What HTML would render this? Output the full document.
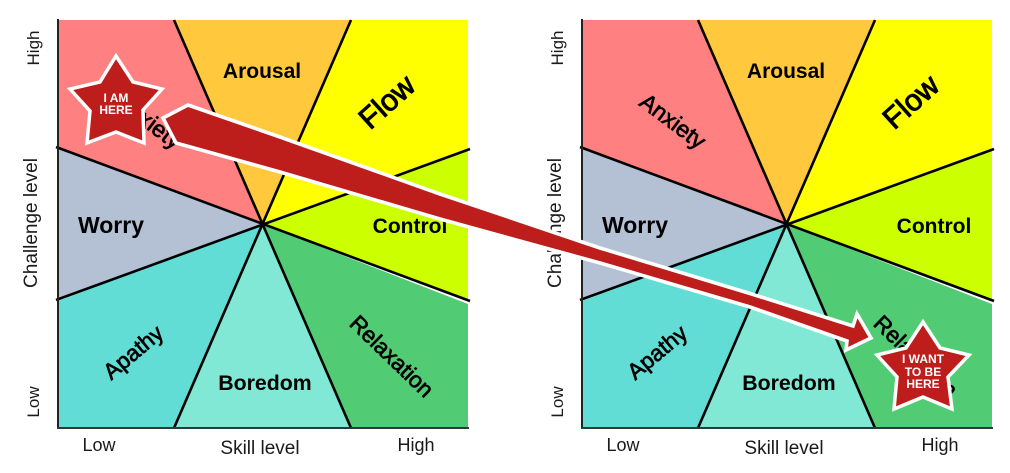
<!DOCTYPE html>
<html><head><meta charset="utf-8"><style>
html,body{margin:0;padding:0;background:#fff;width:1010px;height:473px;overflow:hidden}
svg{display:block}
text{font-family:"Liberation Sans",sans-serif}
.b{font-weight:bold;fill:#000;text-anchor:middle}
.r{fill:#000;text-anchor:middle;stroke:#000;stroke-width:.7px}
.a{fill:#1a1a1a;text-anchor:middle;font-size:17px}
.s{fill:#fff;font-weight:bold;font-size:12px;text-anchor:middle}
</style></head><body>
<svg width="1010" height="473" viewBox="0 0 1010 473" xmlns="http://www.w3.org/2000/svg">
<defs>
<g id="p">
<rect x="58" y="20" width="410" height="408" fill="#fff"/>
<polygon points="58,20 174,20 262,224 58,148" fill="#ff8080"/>
<polygon points="174,20 351,20 262,224" fill="#ffc83d"/>
<polygon points="351,20 468,20 468,151 262,224" fill="#ffff00"/>
<polygon points="468,151 468,299 262,224" fill="#ccff00"/>
<polygon points="468,304 468,428 351,428 262,224" fill="#52cc74"/>
<polygon points="351,428 174,428 262,224" fill="#80e8d4"/>
<polygon points="174,428 58,428 58,301 262,224" fill="#62ddd5"/>
<polygon points="58,148 262,224 58,299" fill="#b4c0d4"/>
<g stroke="#000" stroke-width="2.6" fill="none">
<line x1="174" y1="20" x2="351" y2="428"/>
<line x1="351" y1="20" x2="174" y2="428"/>
<line x1="56" y1="147" x2="470" y2="301"/>
<line x1="56" y1="300" x2="470" y2="149"/>
</g>
<line x1="58" y1="19" x2="58" y2="429" stroke="#222" stroke-width="2"/>
<line x1="57" y1="428" x2="469" y2="428" stroke="#2a3a3a" stroke-width="2"/>
<text class="b" font-size="21" x="262" y="78">Arousal</text>
<text class="b" font-size="21.3" x="265" y="390">Boredom</text>
<text class="b" font-size="23" x="111" y="233">Worry</text>
<text class="b" font-size="21" x="410" y="233">Control</text>
<text class="r" font-size="30" transform="translate(387,102) rotate(-42)" y="10" style="stroke-width:1px">Flow</text>
<text class="r" font-size="22.5" transform="translate(133,352) rotate(-40)" y="8">Apathy</text>
<text class="r" font-size="22.5" transform="translate(392,356) rotate(44)" y="8">Relaxation</text>
<text class="r" font-size="23" transform="translate(149,121) rotate(37)" y="8">Anxiety</text>
<text class="a" x="99" y="451" style="font-size:18px">Low</text>
<text class="a" x="260" y="454" style="font-size:19px">Skill level</text>
<text class="a" x="416" y="451" style="font-size:18px">High</text>
<text class="a" transform="translate(39,48) rotate(-90)">High</text>
<text class="a" style="font-size:19px" transform="translate(37,223) rotate(-90)">Challenge level</text>
<text class="a" transform="translate(39,402) rotate(-90)">Low</text>
</g>
</defs>
<use href="#p"/>
<use href="#p" x="524"/>
<polygon points="163,118 188,105 280,137 440,194 600,248 750,293.5 853,326 857,314 871,338 846,350 847,341 750,307 600,263 440,219 280,172 176,143" fill="#bd1e1b" stroke="#fff" stroke-width="3.6" stroke-linejoin="miter"/>
<polygon points="116,56 133,82 162,89 143,110 144,143 116,132 87,143 90,111 70,89 100,82" fill="#bd1e1b" stroke="#fff" stroke-width="3.5"/>
<text class="s" x="116" y="102">I AM</text>
<text class="s" x="116" y="114">HERE</text>
<polygon points="923,322 940,348 969,355 948,377 952,409 923,397 894,409 897,377 877,355 906,348" fill="#bd1e1b" stroke="#fff" stroke-width="3.5"/>
<text class="s" x="923" y="363">I WANT</text>
<text class="s" x="923" y="376">TO BE</text>
<text class="s" x="923" y="388">HERE</text>
</svg>
</body></html>
